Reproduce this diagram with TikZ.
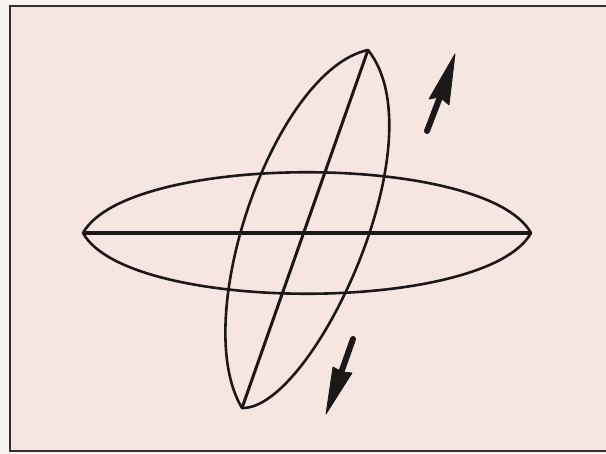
\documentclass[tikz,border=0pt]{standalone}
\definecolor{outbg}{RGB}{247,243,239}
\definecolor{inbg}{RGB}{246,230,225}
\definecolor{ink}{RGB}{28,24,24}
\tikzset{
  framestyle/.style={draw=ink!90, line width=2pt},
  lens/.style={draw=ink, line width=2.6pt, line join=round},
  axisline/.style={draw=ink, line width=3.4pt},
  shaft/.style={draw=ink, line width=6pt, line cap=round},
  head/.style={fill=ink, draw=ink, line width=0.8pt, line join=round}
}
\begin{document}
\begin{tikzpicture}[x=1pt,y=-1pt]
\useasboundingbox (0,0) rectangle (606,454);
\fill[outbg] (0,0) rectangle (606,454);
\fill[inbg] (10,6.5) rectangle (606,451);
\draw[framestyle] (606,6.5) -- (10,6.5) -- (10,451) -- (606,451);
% named tips
\coordinate (hl) at (83,233);
\coordinate (hr) at (531,233);
\coordinate (vb) at (242,408);
\coordinate (vt) at (368,50);
% horizontal lens
\draw[lens] (hl) .. controls (128,152) and (486,152) .. (hr)
  .. controls (486,314) and (128,314) .. cycle;
% tilted lens
\draw[lens] (vb) .. controls (188,318) and (275,70) .. (vt)
  .. controls (440,140) and (312,410) .. cycle;
% axes
\draw[axisline] (hl) -- (hr);
\draw[axisline, line width=3pt] (vb) -- (vt);
% upper arrow
\coordinate (ua0) at (427,131);
\coordinate (ua1) at (440,97);
\coordinate (uat) at (455,54);
\draw[shaft] (ua0) -- (ua1);
\fill[head] (uat) -- (429,99) -- (440,97) -- (449,105) -- cycle;
% lower arrow
\coordinate (la0) at (353,339);
\coordinate (la1) at (341,373);
\coordinate (lat) at (326,414);
\draw[shaft] (la0) -- (la1);
\fill[head] (lat) -- (333,367) -- (342,372) -- (352,373) -- cycle;
\end{tikzpicture}
\end{document}
